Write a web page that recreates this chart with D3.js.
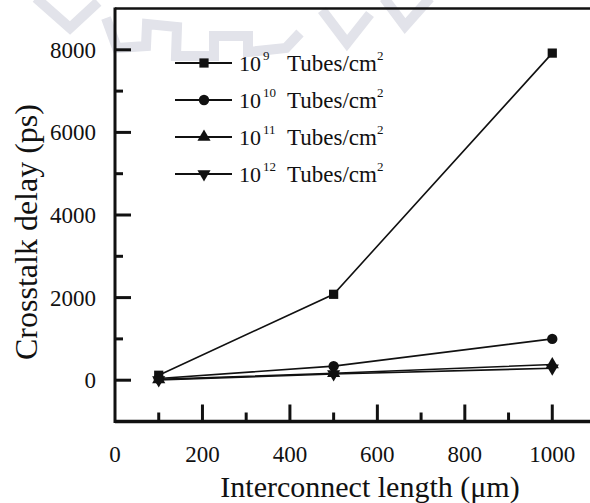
<!DOCTYPE html>
<html lang="en">
<head>
    <meta charset="UTF-8">
    <title>Crosstalk delay</title>
    <script src="https://cdn.jsdelivr.net/npm/d3@7/dist/d3.min.js"></script>
    <style>
        html, body { margin: 0; padding: 0; background: #fff; }
        svg { display: block; }
        text { font-family: "Liberation Serif", "Times New Roman", serif; fill: #111; }
        .series path.ln { fill: none; stroke: #111; stroke-width: 1.6px; }
        .mk path { fill: #111; stroke: none; }
        .watermark { fill: none; stroke: #e2e3ea; stroke-width: 10px; stroke-linejoin: miter; }
    </style>
</head>
<body>
<script>
    // canvas
    const width = 590;
    const height = 503;

    // data
    const lengths = [100, 500, 1000];
    const delay1e9 = [120, 2080, 7920];
    const delay1e10 = [40, 340, 1000];
    const delay1e11 = [20, 170, 380];
    const delay1e12 = [5, 150, 290];
    const exponents = ['9', '10', '11', '12'];
    const symbols = [d3.symbolSquare, d3.symbolCircle, d3.symbolTriangle, 'down'];
    const xTicks = [0, 200, 400, 600, 800, 1000];
    const yTicks = [0, 2000, 4000, 6000, 8000];

    const allSeries = [delay1e9, delay1e10, delay1e11, delay1e12];

    let svg = d3.select('body')
        .append('svg')
        .attr('width', width)
        .attr('height', height);

    // faint watermark behind the figure
    const wm = svg.append('g').attr('class', 'watermark');
    wm.append('path').attr('d', 'M36,-2 L70,28 L98,2');
    wm.append('path').attr('d', 'M106,18 L117,48 L146,46 L147,24 L177,27 L176,56 L214,56 L214,36 L248,36 L248,52 L286,48 L300,33');
    wm.append('path').attr('d', 'M322,10 L347,43 L370,14');
    wm.append('path').attr('d', 'M384,-2 L405,26 L430,-2');

    const x = d3.scaleLinear().domain([0, 1100]).range([115, 596]);
    const y = d3.scaleLinear().domain([-1000, 9000]).range([421.5, 8.5]);

    // frame
    const frame = svg.append('g');
    frame.append('line').attr('x1', 115).attr('x2', width + 5).attr('y1', y(9000)).attr('y2', y(9000))
        .attr('stroke', '#111').attr('stroke-width', 2.5);
    frame.append('line').attr('x1', 115).attr('x2', width + 5).attr('y1', y(-1000)).attr('y2', y(-1000))
        .attr('stroke', '#111').attr('stroke-width', 3.5);
    frame.append('line').attr('x1', 115).attr('x2', 115).attr('y1', y(9000) - 1).attr('y2', y(-1000) + 1.5)
        .attr('stroke', '#111').attr('stroke-width', 3);

    // y ticks (inward), major + minor
    const yMinor = [1000, 3000, 5000, 7000];
    svg.append('g').selectAll('line').data(yTicks).enter().append('line')
        .attr('x1', 115).attr('x2', 131)
        .attr('y1', d => y(d)).attr('y2', d => y(d))
        .attr('stroke', '#111').attr('stroke-width', 3);
    svg.append('g').selectAll('line').data(yMinor).enter().append('line')
        .attr('x1', 115).attr('x2', 123)
        .attr('y1', d => y(d)).attr('y2', d => y(d))
        .attr('stroke', '#111').attr('stroke-width', 3);
    svg.append('g').selectAll('text').data(yTicks).enter().append('text')
        .attr('x', 96).attr('y', d => y(d) + 8)
        .attr('text-anchor', 'end')
        .style('font-size', '23px')
        .text(d => d);

    // x ticks (inward)
    const xMinor = [100, 300, 500, 700, 900];
    svg.append('g').selectAll('line').data(xTicks.filter(d => d > 0)).enter().append('line')
        .attr('x1', d => x(d)).attr('x2', d => x(d))
        .attr('y1', y(-1000)).attr('y2', y(-1000) - 17)
        .attr('stroke', '#111').attr('stroke-width', 3);
    svg.append('g').selectAll('line').data(xMinor).enter().append('line')
        .attr('x1', d => x(d)).attr('x2', d => x(d))
        .attr('y1', y(-1000)).attr('y2', y(-1000) - 9)
        .attr('stroke', '#111').attr('stroke-width', 3);
    svg.append('g').selectAll('text').data(xTicks).enter().append('text')
        .attr('x', d => x(d)).attr('y', 462)
        .attr('text-anchor', 'middle')
        .style('font-size', '23px')
        .text(d => d);

    // axis titles
    svg.append('text')
        .attr('x', 370).attr('y', 497)
        .attr('text-anchor', 'middle')
        .style('font-size', '30px')
        .text('Interconnect length (\u03bcm)');
    svg.append('text')
        .attr('transform', 'translate(37,232) rotate(-90)')
        .attr('text-anchor', 'middle')
        .style('font-size', '32px')
        .text('Crosstalk delay (ps)');

    // markers
    function marker (sel, type, size) {
        const g = sel.append('g').attr('class', 'mk');
        if (type === 'down') {
            g.append('path')
                .attr('d', d3.symbol().type(d3.symbolTriangle).size(size)())
                .attr('transform', 'rotate(180)');
        } else {
            g.append('path').attr('d', d3.symbol().type(type).size(size)());
        }
    }
    const markerSize = [85, 85, 75, 75];

    const line = d3.line()
        .x((d, i) => x(lengths[i]))
        .y(d => y(d));

    allSeries.forEach(function (vals, k) {
        const g = svg.append('g').attr('class', 'series');
        g.append('path').attr('class', 'ln').attr('d', line(vals));
        g.selectAll('g.pt').data(vals).enter().append('g')
            .attr('class', 'pt')
            .attr('transform', (d, i) => 'translate(' + x(lengths[i]) + ',' + y(d) + ')')
            .each(function () { marker(d3.select(this), symbols[k], markerSize[k]); });
    });

    // legend
    const legend = svg.append('g');
    exponents.forEach(function (e, k) {
        const cy = 63 + k * 37;
        const row = legend.append('g');
        row.append('line').attr('x1', 175).attr('x2', 232).attr('y1', cy).attr('y2', cy)
            .attr('stroke', '#111').attr('stroke-width', 2);
        const m = row.append('g').attr('transform', 'translate(204,' + cy + ')');
        marker(m, symbols[k], markerSize[k]);
        const base = cy + 8;
        row.append('text').attr('x', 239).attr('y', base).style('font-size', '22px').text('10');
        row.append('text').attr('x', 263).attr('y', base - 11).style('font-size', '13px').text(e);
        const t = row.append('text').attr('x', 287).attr('y', base).style('font-size', '23px');
        t.append('tspan').text('Tubes/cm');
        t.append('tspan').attr('dy', -11).style('font-size', '13px').text('2');
    });
</script>
</body>
</html>
